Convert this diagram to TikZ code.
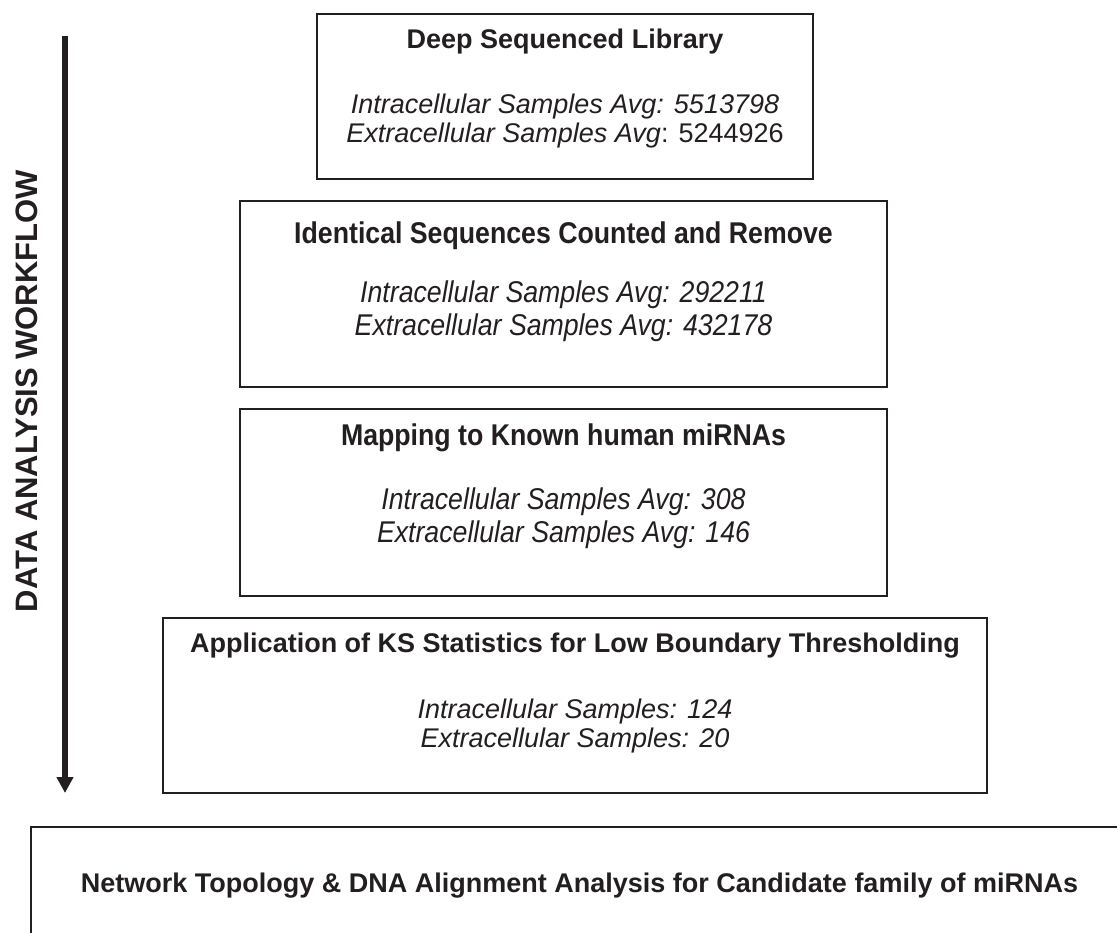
\documentclass[tikz,border=0pt]{standalone}
\usepackage{fontspec}
\setmainfont{Liberation Sans}
\newfontfamily\narrowsans[FakeStretch=0.89]{Liberation Sans}
\usepackage{tikz}
\usetikzlibrary{
  arrows.meta,
  positioning
}
\definecolor{inkdark}{HTML}{231F20}

\begin{document}
\begin{tikzpicture}[
  x=0.5pt, y=-0.5pt,
  stagebox/.style={
    rectangle, draw=inkdark, line width=1pt, fill=white,
    inner sep=0pt
  },
  stagetitle/.style={
    anchor=base, text=inkdark,
    font=\fontsize{13.5}{14.5}\selectfont\bfseries
  },
  stagedata/.style={
    anchor=base, text=inkdark, align=center,
    font=\fontsize{13.5}{14.5}\selectfont\itshape
  },
  narrowtitle/.style={
    anchor=base, text=inkdark,
    font=\narrowsans\fontsize{15}{16.5}\selectfont\bfseries
  },
  narrowdata/.style={
    anchor=base, text=inkdark, align=center,
    font=\narrowsans\fontsize{15}{16.5}\selectfont\itshape
  }
]

\useasboundingbox (0,0) rectangle (1117,932);
\clip (0,0) rectangle (1117,932);

% workflow arrow and its label
\coordinate (flowtop) at (65,36);
\coordinate (flowend) at (65,793);
\draw[line width=3pt, inkdark, -{Triangle[width=8pt, length=8pt]}]
  (flowtop) -- (flowend);
\node[rotate=90, text=inkdark, font=\fontsize{15.5}{16}\selectfont\bfseries]
  (workflow) at (27,391) {DATA ANALYSIS WORKFLOW};

% the stages (data nodes sit on the baseline of their last line)
\node[stagebox, minimum width=248pt, minimum height=82.5pt] (library) at (565,96.5) {};
\node[stagetitle] (libtitle) at (565,48) {Deep Sequenced Library};
\node[stagedata] (libdata) at (565,142)
  {Intracellular Samples Avg: 5513798\\
   Extracellular Samples Avg{\upshape : 5244926}};

\node[stagebox, minimum width=323.5pt, minimum height=93pt] (collapse) at (563.5,294) {};
\node[narrowtitle] (coltitle) at (563.5,243) {Identical Sequences Counted and Remove};
\node[narrowdata] (coldata) at (563.5,335)
  {Intracellular Samples Avg: 292211\\
   Extracellular Samples Avg: 432178};

\node[stagebox, minimum width=323.5pt, minimum height=93.5pt] (mapping) at (563.5,502.5) {};
\node[narrowtitle] (maptitle) at (563.5,445) {Mapping to Known human miRNAs};
\node[narrowdata] (mapdata) at (563.5,542)
  {Intracellular Samples Avg: 308\\
   Extracellular Samples Avg: 146};

\node[stagebox, minimum width=412pt, minimum height=87.5pt] (kstest) at (575,705.5) {};
\node[stagetitle] (kstitle) at (575,652)
  {Application of KS Statistics for Low Boundary Thresholding};
\node[stagedata] (ksdata) at (575,747)
  {Intracellular Samples: 124\\
   Extracellular Samples: 20};

% final analysis (runs off the page)
\node[stagebox, minimum width=548.5pt, minimum height=81.5pt] (network) at (579.5,908.5) {};
\node[stagetitle] (nettitle) at (579.5,892)
  {Network Topology \& DNA Alignment Analysis for Candidate family of miRNAs};

\end{tikzpicture}
\end{document}
